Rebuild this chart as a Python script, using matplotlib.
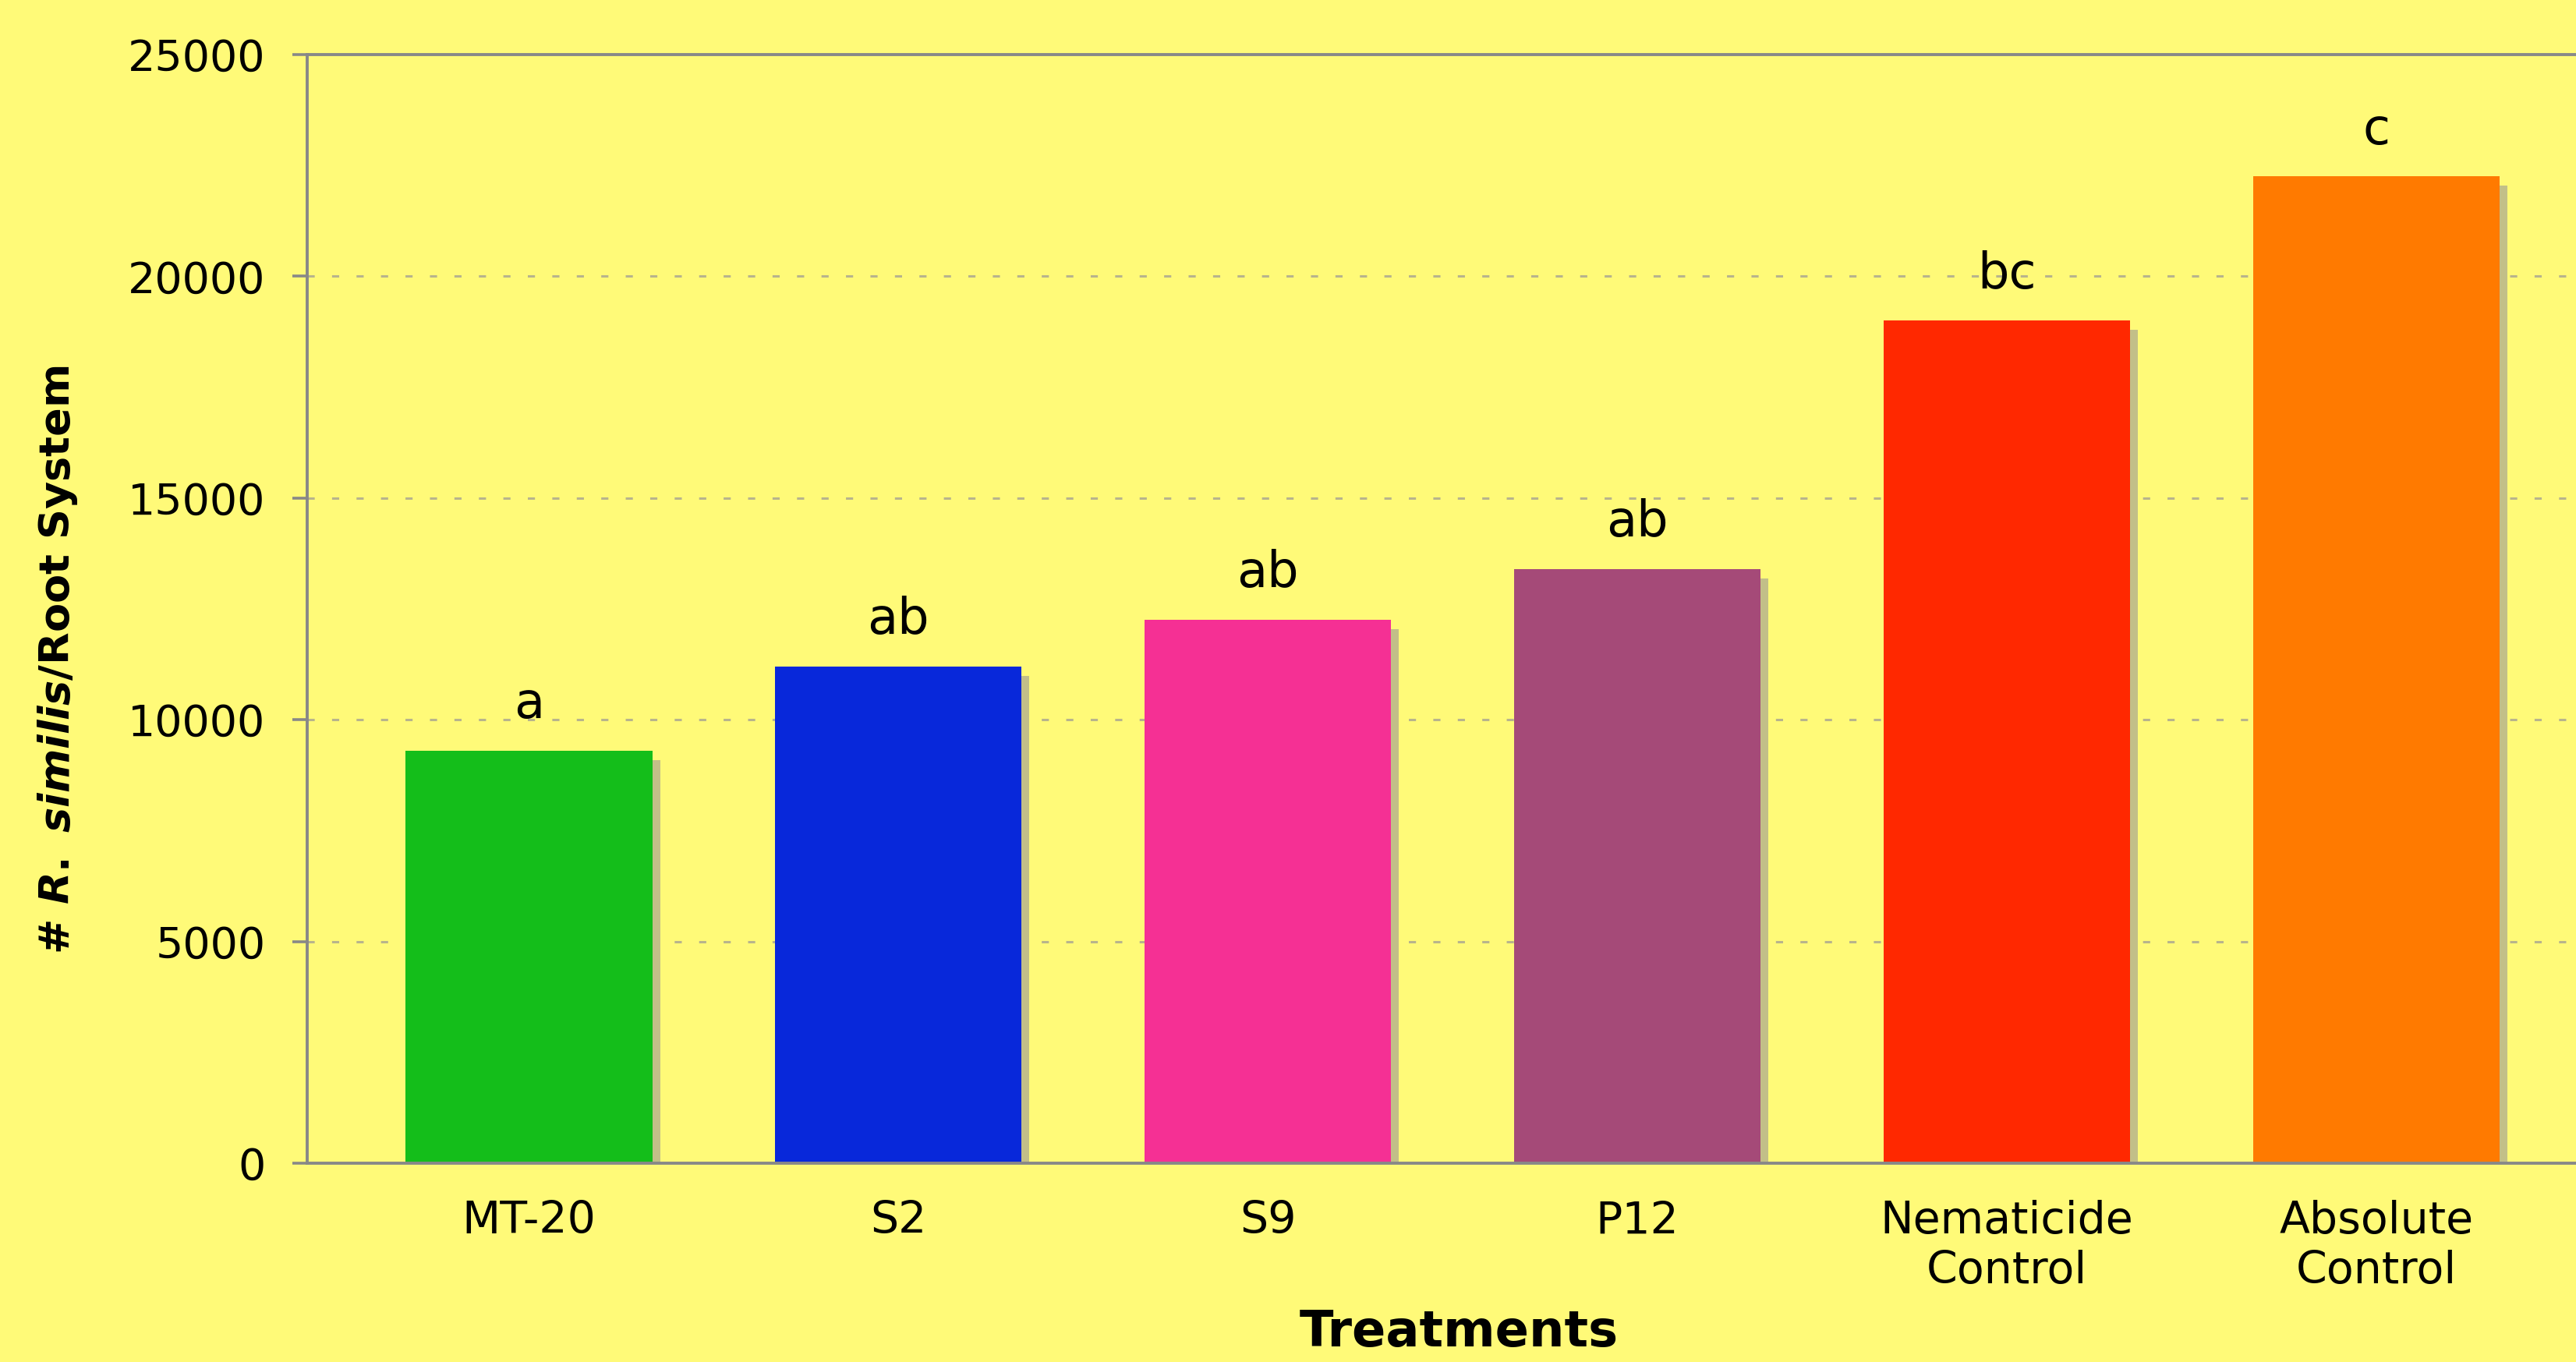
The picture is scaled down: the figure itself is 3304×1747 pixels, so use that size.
import numpy as np
import matplotlib.pyplot as plt

plt.rcParams['lines.scale_dashes'] = False
plt.rcParams['mathtext.fontset'] = 'custom'
plt.rcParams['mathtext.it'] = 'DejaVu Sans:italic:bold'
plt.rcParams['mathtext.rm'] = 'DejaVu Sans:bold'

# Datos: nematodos por sistema radical en cada tratamiento
treatments = ['MT-20', 'S2', 'S9', 'P12', 'Nematicide\nControl', 'Absolute\nControl']
counts = [9300, 11200, 12250, 13400, 19000, 22250]
letters = ['a', 'ab', 'ab', 'ab', 'bc', 'c']
bar_colors = ['#14be1a', '#0828da', '#f53094', '#a54a78', '#ff2800', '#ff7a00']

bg = '#fffa78'
fig = plt.figure(figsize=(16.52, 8.735), dpi=200, facecolor=bg)
ax = fig.add_axes([0.1193, 0.146, 0.8807, 0.814], facecolor=bg)

x = np.arange(len(treatments))
w = 0.667

# Sombra de cada barra (desplazada a la derecha y hacia abajo)
dx, dy = 0.021, 210
ax.bar(x + dx, np.array(counts) - dy, width=w, color='#c2bf88', zorder=2)
ax.bar(x, counts, width=w, color=bar_colors, zorder=3)

for xi, v, lt in zip(x, counts, letters):
    ax.annotate(lt, (xi, v), xytext=(0, 15), textcoords='offset points',
                ha='center', va='baseline', fontsize=23, color='black')

ax.set_xlim(-0.6, 5.54)
ax.set_ylim(0, 25000)
ax.set_yticks(np.arange(0, 25001, 5000))
ax.set_xticks(x)
ax.set_xticklabels(treatments, fontsize=20.5, linespacing=1.2)
ax.tick_params(axis='x', length=0, pad=17)
ax.tick_params(axis='y', length=6.8, width=1.3, color='#888888', pad=12.5,
               labelsize=20)

for yv in range(5000, 25000, 5000):
    ax.axhline(yv, color='#b8b48c', lw=1.1, dashes=(3.3, 8), zorder=1)

for side in ['left', 'bottom', 'top']:
    ax.spines[side].set_color('#888888')
    ax.spines[side].set_linewidth(1.4)
ax.spines['right'].set_visible(False)
ax.spines['bottom'].set_zorder(4)

fig.text(74 / 3304, 1 - 846 / 1747, r'# $\mathit{R.}$ $\mathit{similis}$/Root System',
         rotation=90, ha='center', va='center', fontsize=19.5, fontweight='bold')
fig.text(1871 / 3304, 0.004, 'Treatments', ha='center', va='bottom',
         fontsize=23, fontweight='bold')

fig.savefig('out.png', dpi=200, facecolor=bg)
